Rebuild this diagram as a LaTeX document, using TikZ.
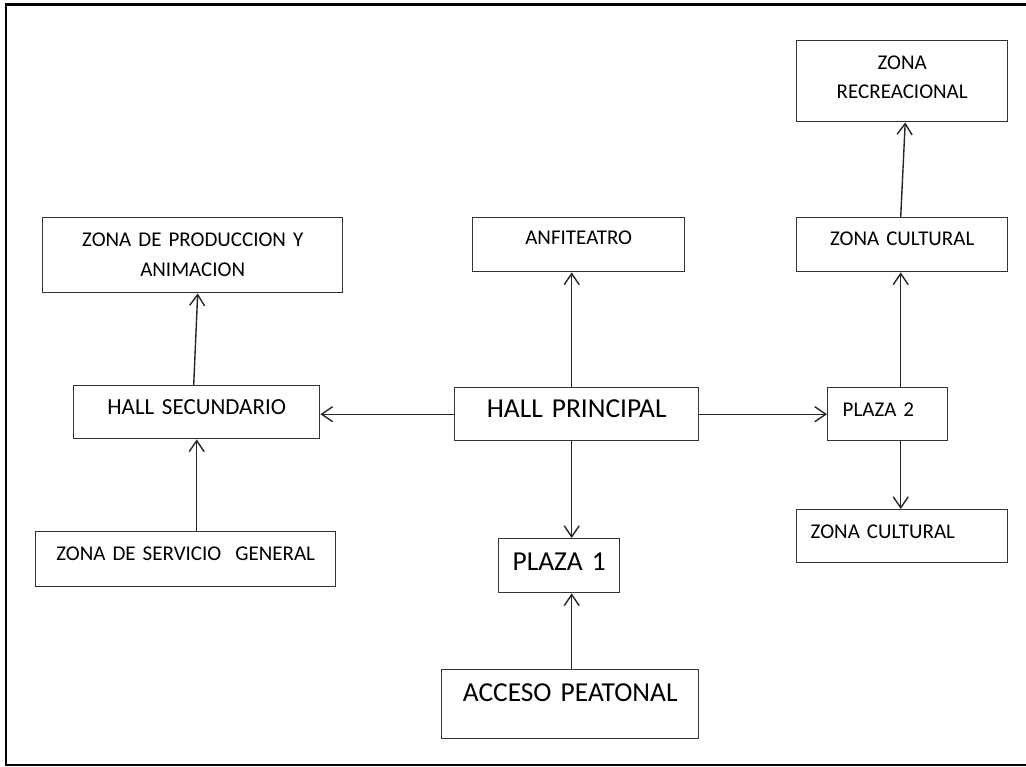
\documentclass[tikz,border=0pt]{standalone}
\usepackage{fontspec}
\setmainfont{Carlito}
\usetikzlibrary{%
  arrows.meta,%
  positioning,%
  calc%
}

\begin{document}
\begin{tikzpicture}
  [
  x=0.5pt, y=-0.5pt,
  line width=0.7pt,
  draw=black!85, >={Straight Barb[length=5.5pt,width=7.5pt]},
  zona/.style={rectangle, draw=black!80, inner sep=0pt, anchor=north west, align=center, font=\fontsize{10.5}{15}\selectfont},
  hall/.style={zona, font=\fontsize{11.5}{14}\selectfont},
  grande/.style={zona, font=\fontsize{13.7}{16}\selectfont},
  ]

\useasboundingbox (0,0) rectangle (1026,766);
\draw[line width=1.1pt,black] (1026,4.5) -- (6,4.5) -- (6,765) -- (1026,765);

% columna izquierda
\node[zona, text width=150pt, text height=14.5pt, text depth=23pt] (zpa) at (42,217) {ZONA DE PRODUCCION Y\\ANIMACION};
\node[hall, text width=123pt, text height=14.5pt, text depth=12pt] (hs) at (73,385) {HALL SECUNDARIO};
\node[zona, text width=150pt, text height=14.5pt, text depth=13pt] (zsg) at (35,531) {ZONA DE SERVICIO\ \ GENERAL};

% columna central
\node[zona, text width=106pt, text height=13.5pt, text depth=13.5pt] (anf) at (472,217) {ANFITEATRO};
\node[grande, text width=122pt, text height=15pt, text depth=11.5pt] (hp) at (454,387) {HALL PRINCIPAL};
\node[grande, text width=60.5pt, text height=16pt, text depth=11pt] (p1) at (498,538) {PLAZA 1};
\node[grande, text width=128.5pt, text height=16pt, text depth=18.5pt] (ap) at (441,669) {ACCESO PEATONAL};

% columna derecha
\node[zona, text width=105.5pt, text height=14.5pt, text depth=26pt, font=\fontsize{10.5}{14.5}\selectfont] (zr) at (796,40) {ZONA\\RECREACIONAL};
\node[zona, text width=105.5pt, text height=14pt, text depth=13pt] (zc) at (796,217) {ZONA CULTURAL};
\node[zona, align=left, inner xsep=7.5pt, text width=45pt, text height=14.5pt, text depth=12pt] (p2) at (827,387) {PLAZA 2};
\node[zona, align=left, inner xsep=7pt, text width=91.5pt, text height=14.5pt, text depth=12pt] (zc2) at (796,509) {ZONA CULTURAL};

\coordinate (eje) at ([xshift=-2.5pt]hp.center);
\coordinate (eje2) at ([xshift=-0.75pt]zc.center);

\draw[->] (hp.west) -- (hp.west -| hs.east);
\draw[->] (hp.east) -- (hp.east -| p2.west);
\draw[->] (eje |- hp.north) -- (eje |- anf.south);
\draw[->] (eje |- hp.south) -- (eje |- p1.north);
\draw[->] (eje |- ap.north) -- (eje |- p1.south);

\draw[->] (hs.south |- zsg.north) -- (hs.south);
\draw[->] ([xshift=-1.5pt]hs.north) -- ([xshift=2.5pt]zpa.south);

\draw[->] (eje2 |- p2.north) -- (eje2 |- zc.south);
\draw[->] (eje2 |- p2.south) -- (eje2 |- zc2.north);
\draw[->] (eje2 |- zc.north) -- ([xshift=1.5pt]zr.south);
\end{tikzpicture}
\end{document}
